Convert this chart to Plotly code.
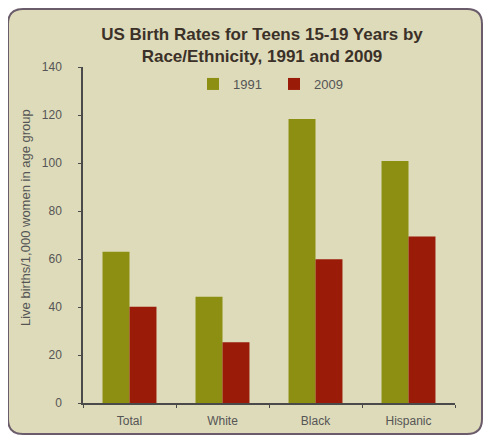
import plotly.graph_objects as go

categories = ["Total", "White", "Black", "Hispanic"]
rates_1991 = [63.0, 44.3, 118.3, 100.8]
rates_2009 = [40.1, 25.3, 59.9, 69.4]
y_ticks = [0, 20, 40, 60, 80, 100, 120, 140]

# the page adds an 8px body margin all round, keep the figure inside the window
OFF = 8
W, H = 491 - 2 * OFF, 443 - 2 * OFF
L, T = 83 - OFF, 67 - OFF
R = W - (455 - OFF)
B = H - (403 - OFF)
pw, ph = W - L - R, H - T - B


def px(x):
    # reference pixel x -> paper fraction
    return (x - OFF - L) / pw


def py(y):
    return (H - B - (y - OFF)) / ph


# rounded beige panel behind everything
x0, x1, y0, y1, r = 8, 482, 9, 434, 15
panel = (f"M {px(x0 + r)},{py(y0)} L {px(x1 - r)},{py(y0)} "
         f"Q {px(x1)},{py(y0)} {px(x1)},{py(y0 + r)} "
         f"L {px(x1)},{py(y1 - r)} Q {px(x1)},{py(y1)} {px(x1 - r)},{py(y1)} "
         f"L {px(x0 + r)},{py(y1)} Q {px(x0)},{py(y1)} {px(x0)},{py(y1 - r)} "
         f"L {px(x0)},{py(y0 + r)} Q {px(x0)},{py(y0)} {px(x0 + r)},{py(y0)} Z")

fig = go.Figure()
fig.add_trace(go.Bar(name="1991", x=categories, y=rates_1991, marker_color="#8C8F12",
                     marker_line_width=0))
fig.add_trace(go.Bar(name="2009", x=categories, y=rates_2009, marker_color="#9B1B09",
                     marker_line_width=0))

fig.update_layout(
    width=W, height=H,
    margin=dict(l=L, r=R, t=T, b=B, autoexpand=False),
    paper_bgcolor="white",
    plot_bgcolor="rgba(0,0,0,0)",
    barmode="group", bargap=0.42, bargroupgap=0,
    font=dict(family="Liberation Sans Narrow, Liberation Sans, Arial", size=12, color="#555555"),
    title=dict(text="<b>US Birth Rates for Teens 15-19 Years by<br>Race/Ethnicity, 1991 and 2009</b>",
               x=px(262), xanchor="center", xref="paper", y=1 - (40 - OFF) / H, yanchor="middle",
               font=dict(family="Liberation Sans Narrow, Liberation Sans, Arial", size=17, color="#3b3128")),
    legend=dict(orientation="h", x=px(193), xanchor="left", y=py(84), yanchor="middle",
                bgcolor="rgba(0,0,0,0)", font=dict(size=13, color="#555555"),
                entrywidth=36, entrywidthmode="pixels", traceorder="normal"),
    shapes=[dict(type="path", path=panel, xref="paper", yref="paper", layer="below",
                 fillcolor="#DEDBBA", line=dict(color="#6a5c6a", width=2))],
    annotations=[dict(text="Live births/1,000 women in age group", textangle=-90,
                      xref="paper", yref="paper", x=px(25), y=py(218),
                      xanchor="center", yanchor="middle",
                      showarrow=False, font=dict(size=13, color="#555555"))],
)
fig.update_yaxes(range=[0, 140], tickvals=y_ticks, showgrid=False, zeroline=False,
                 showline=True, linecolor="#4a4a4a", linewidth=1.5, automargin=False,
                 ticks="outside", ticklen=3, tickcolor="#4a4a4a", ticklabelstandoff=14)
fig.update_xaxes(showgrid=False, showline=True, linecolor="#4a4a4a", linewidth=1.5,
                 automargin=False,
                 ticks="outside", ticklen=3, tickcolor="#4a4a4a", tickson="boundaries",
                 ticklabelstandoff=6)

fig.write_html("out.html")
